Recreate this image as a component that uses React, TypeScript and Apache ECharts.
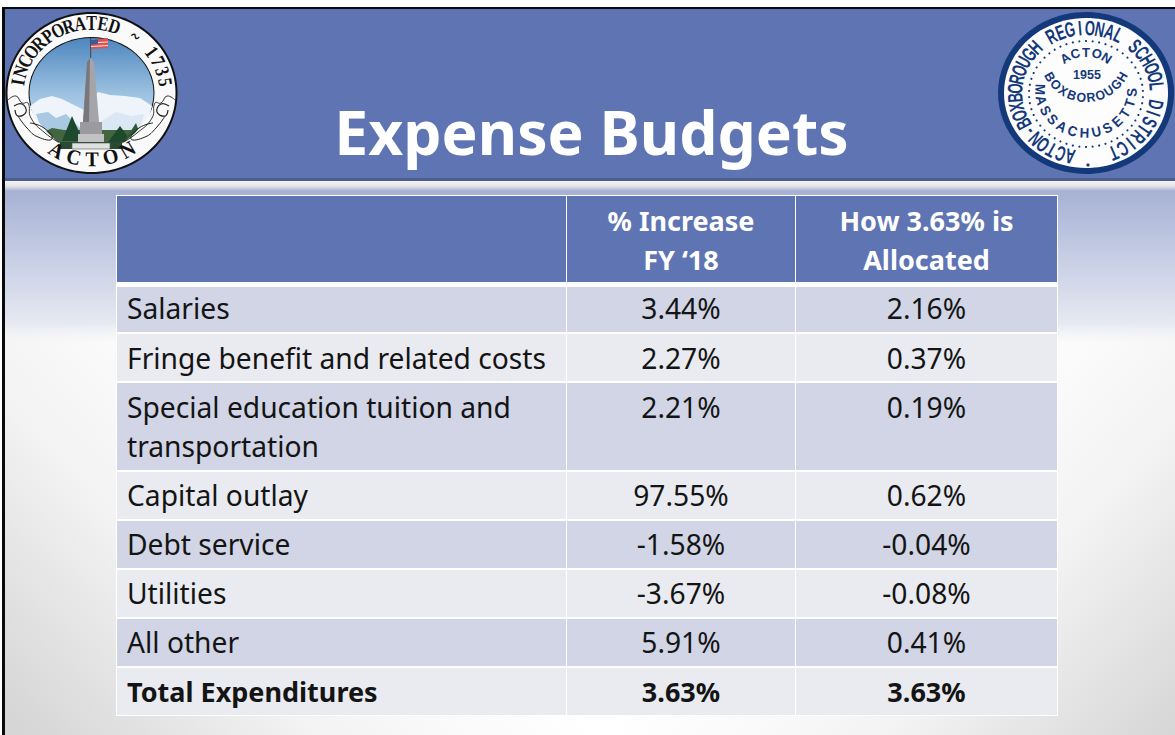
import React, { useEffect, useRef } from "react";
import * as echarts from "echarts";

const slideTitle = "Expense Budgets";
const columnHeaders = ["", "% Increase\nFY ‘18", "How 3.63% is\nAllocated"];
const rowLabels = [
  "Salaries",
  "Fringe benefit and related costs",
  "Special education tuition and\ntransportation",
  "Capital outlay",
  "Debt service",
  "Utilities",
  "All other",
  "Total Expenditures",
];
const pctIncrease = ["3.44%", "2.27%", "2.21%", "97.55%", "-1.58%", "-3.67%", "5.91%", "3.63%"];
const allocated = ["2.16%", "0.37%", "0.19%", "0.62%", "-0.04%", "-0.08%", "0.41%", "3.63%"];

const W = 1175;
const H = 735;
const colEdges = [[117, 566], [567, 795], [796, 1057]];
const rowEdges = [[196, 282], [287, 332], [334, 381], [383, 470], [472, 519], [521, 568], [570, 617], [619, 666], [668, 715]];
const lineCentres = [220.5, 308, 358, 407, 495, 544, 593, 642, 691.5];
const BLUE = "#5f75b3";
const FONT = "'Noto Sans', 'Open Sans', sans-serif";
const LH = 38.6;

function arcText(text: string, cx: number, cy: number, rx: number, ry: number, from: number, to: number, style: any, scaleX = 1) {
  const out: any[] = [];
  const chars = Array.from(text);
  chars.forEach((ch, i) => {
    if (ch === " ") return;
    const deg = from + ((to - from) * i) / (chars.length - 1);
    const t = (deg * Math.PI) / 180;
    const upright = to < from;
    out.push({
      type: "text",
      x: cx + rx * Math.sin(t),
      y: cy - ry * Math.cos(t),
      rotation: upright ? -(t - Math.PI) : -t,
      scaleX,
      style: { text: ch, align: "center", verticalAlign: "middle", ...style },
    });
  });
  return out;
}

function curve(points: number[][], stroke: string, lineWidth = 1) {
  return { type: "polyline", shape: { points, smooth: 0.5 }, style: { stroke, lineWidth, fill: "none" } };
}

function leftLogo() {
  const cx = 91.5, cy = 93;
  const serif = { fill: "#111", fontWeight: "bold", fontFamily: "'Liberation Serif', serif" };
  const els: any[] = [
    { type: "ellipse", shape: { cx, cy, rx: 86, ry: 81 }, style: { fill: "#101010" } },
    { type: "ellipse", shape: { cx, cy, rx: 84, ry: 79 }, style: { fill: "#fafafa" } },
    { type: "ellipse", shape: { cx, cy: 93, rx: 63, ry: 56 }, style: { fill: "#111" } },
    {
      type: "ellipse", shape: { cx, cy: 93, rx: 62, ry: 55 },
      style: { fill: new echarts.graphic.LinearGradient(0, 0, 0, 1, [
        { offset: 0, color: "#4e86bf" }, { offset: 0.5, color: "#9cc1e0" }, { offset: 1, color: "#d3e4f1" },
      ]) },
    },
    { type: "polygon", shape: { points: [[30, 106], [40, 99], [52, 96], [62, 99], [72, 104], [84, 110], [98, 92], [110, 95], [125, 96], [140, 98], [152, 106], [147, 128], [38, 128]] }, style: { fill: "#eef4fa" } },
    { type: "polygon", shape: { points: [[36, 114], [48, 112], [56, 118], [66, 114], [80, 128], [84, 136], [44, 136]] }, style: { fill: "#a9c8e2" } },
    { type: "polygon", shape: { points: [[100, 122], [116, 112], [132, 116], [144, 114], [138, 136], [100, 136]] }, style: { fill: "#dbe8f3" } },
    { type: "polygon", shape: { points: [[42, 133], [52, 128], [64, 130], [140, 130], [134, 142], [50, 142]] }, style: { fill: "#43663f" } },
    { type: "polygon", shape: { points: [[72, 116], [83, 141], [62, 141]] }, style: { fill: "#1d4a2f" } },
    { type: "polygon", shape: { points: [[120, 126], [132, 142], [108, 142]] }, style: { fill: "#1d4a2f" } },
    { type: "polygon", shape: { points: [[136, 123], [142, 140], [125, 140]] }, style: { fill: "#2c5a38" } },
    { type: "polygon", shape: { points: [[50, 130], [58, 142], [44, 142]] }, style: { fill: "#3e5f3e" } },
    { type: "polygon", shape: { points: [[60, 142], [122, 142], [122, 149], [60, 149]] }, style: { fill: "#2a4a33" } },
    { type: "rect", shape: { x: 72, y: 143, width: 38, height: 6 }, style: { fill: "#dfe3df", stroke: "#555", lineWidth: 0.6 } },
    { type: "rect", shape: { x: 80, y: 122, width: 22, height: 15 }, style: { fill: "#9b9b9f" } },
    { type: "rect", shape: { x: 78, y: 134, width: 26, height: 8 }, style: { fill: "#c2c2c4" } },
    { type: "polygon", shape: { points: [[90, 58], [87, 62], [83, 122], [99, 122], [94, 62]] }, style: { fill: "#a5a5a9" } },
    { type: "polygon", shape: { points: [[90, 58], [87, 62], [83, 122], [89, 122]] }, style: { fill: "#77777c" } },
    { type: "line", shape: { x1: 90.7, y1: 38, x2: 90.7, y2: 58 }, style: { stroke: "#444", lineWidth: 1 } },
    { type: "polygon", shape: { points: [[91, 40], [108, 38], [108, 48], [91, 49]] }, style: { fill: "#d9534f" } },
    { type: "polygon", shape: { points: [[91, 40], [98, 39.5], [98, 44], [91, 44.5]] }, style: { fill: "#3b5a9c" } },
    { type: "line", shape: { x1: 98, y1: 42.5, x2: 108, y2: 42 }, style: { stroke: "#f4e6e6", lineWidth: 1 } },
    { type: "line", shape: { x1: 91, y1: 46.5, x2: 108, y2: 45.5 }, style: { stroke: "#f4e6e6", lineWidth: 1 } },
    { type: "polygon", shape: { points: [[8, 100], [16, 96], [28, 103], [35, 118], [48, 133], [60, 144], [45, 158], [22, 135]] }, style: { fill: "#fafafa" } },
    { type: "polygon", shape: { points: [[175, 100], [167, 96], [155, 103], [148, 118], [135, 133], [122, 144], [138, 158], [160, 135]] }, style: { fill: "#fafafa" } },
    curve([[8, 100], [16, 96], [22, 103], [28, 103], [31, 118], [45, 133], [60, 143]], "#222", 0.9),
    curve([[175, 100], [167, 96], [161, 103], [155, 103], [152, 118], [137, 133], [122, 143]], "#222", 0.9),
    curve([[14, 106], [22, 104], [26, 112], [18, 116], [15, 110]], "#222", 1.2),
    curve([[18, 116], [27, 128], [38, 137], [52, 139], [44, 128], [30, 123]], "#222", 1),
    curve([[169, 106], [161, 104], [157, 112], [165, 116], [168, 110]], "#222", 1.2),
    curve([[165, 116], [156, 128], [145, 137], [131, 139], [139, 128], [153, 123]], "#222", 1),
    ...arcText("INCORPORATED ~ 1735", cx, cy, 74.5, 70, -81, 81, { ...serif, fontSize: 20 }, 0.8),
    ...arcText("ACTON", cx, cy, 70, 66, 210, 149, { ...serif, fontSize: 21 }, 0.95),
  ];
  return els;
}

function rightLogo() {
  const cx = 1086, cy = 93;
  const NAVY = "#14397a";
  const dots: any[] = [];
  for (let i = 0; i < 54; i++) {
    const t = (i / 54) * Math.PI * 2;
    dots.push({ type: "circle", shape: { cx: cx + 57 * Math.sin(t), cy: cy + 1 - 53 * Math.cos(t), r: 1.1 }, style: { fill: NAVY } });
  }
  const sans = { fill: NAVY, fontWeight: "bold", fontFamily: "'Liberation Sans', sans-serif" };
  return [
    { type: "ellipse", shape: { cx, cy, rx: 88, ry: 81 }, style: { fill: NAVY } },
    { type: "ellipse", shape: { cx, cy, rx: 82, ry: 75 }, style: { fill: "#fdfdfe" } },
    ...dots,
    ...arcText("ACTON-BOXBOROUGH REGIONAL SCHOOL DISTRICT", cx, cy, 71, 65, -167, 157, { ...sans, fontSize: 21 }, 0.62),
    ...arcText("ACTON", cx, 90, 38, 38, -33, 33, { ...sans, fontSize: 13 }),
    { type: "text", x: 1087, y: 75, style: { text: "1955", align: "center", verticalAlign: "middle", fontSize: 12.5, letterSpacing: 1.5, ...sans } },
    ...arcText("BOXBOROUGH", cx, 56, 42, 42, 240, 120, { ...sans, fontSize: 13 }, 0.95),
    ...arcText("MASSACHUSETTS", cx, 91, 46, 42, 272, 92, { ...sans, fontSize: 14 }, 0.95),
    { type: "circle", shape: { cx: 1088, cy: 165, r: 1.6 }, style: { fill: NAVY } },
  ];
}

const tableData: number[][] = [];
columnHeaders.forEach((_, c) => tableData.push([0, c]));
rowLabels.forEach((_, r) => [0, 1, 2].forEach((c) => tableData.push([r + 1, c])));

function cellText(r: number, c: number) {
  if (r === 0) return columnHeaders[c];
  return [rowLabels, pctIncrease, allocated][c][r - 1];
}

function renderCell(params: any, api: any) {
  const r = api.value(0);
  const c = api.value(1);
  const [x0, x1] = colEdges[c];
  const [y0, y1] = rowEdges[r];
  const p0 = api.coord([x0, y0]);
  const p1 = api.coord([x1, y1]);
  const last = r === rowLabels.length;
  const header = r === 0;
  const bold = header || last;
  const fill = header ? BLUE : r % 2 === 1 ? "#d1d5e6" : "#e9ebf1";
  const text = cellText(r, c);
  const children: any[] = [
    { type: "rect", shape: { x: p0[0], y: p0[1], width: p1[0] - p0[0], height: p1[1] - p0[1] }, style: { fill } },
  ];
  if (text) {
    const pos = api.coord([c === 0 ? x0 + 10 : (x0 + x1) / 2, lineCentres[r] - LH / 2]);
    children.push({
      type: "text",
      style: {
        text,
        x: pos[0],
        y: pos[1],
        align: c === 0 ? "left" : "center",
        verticalAlign: "top",
        lineHeight: LH,
        fontFamily: FONT,
        fontSize: bold ? 27 : 28.2,
        fontWeight: bold ? "bold" : "normal",
        fill: header ? "#ffffff" : "#141414",
      },
    });
  }
  return { type: "group", children };
}

export default function App() {
  const ref = useRef<HTMLDivElement>(null);
  useEffect(() => {
    document.body.style.margin = "0";
    const chart = echarts.init(ref.current!, undefined, { renderer: "svg" });
    const cornerStops = [
      { offset: 0, color: "#ffffff" },
      { offset: 0.2, color: "#fbfbfb" },
      { offset: 0.5, color: "#f3f3f3" },
      { offset: 1, color: "#d6d6d6" },
    ];
    const bg: any[] = [
      { type: "rect", shape: { x: 0, y: 0, width: W, height: H }, style: { fill: "#ffffff" } },
      { type: "rect", shape: { x: 588, y: 181, width: W - 588, height: H - 181 }, style: { fill: new echarts.graphic.LinearGradient(864, 449, 1175, 735, cornerStops, true) } },
      { type: "rect", shape: { x: 3, y: 181, width: 585, height: H - 181 }, style: { fill: new echarts.graphic.LinearGradient(340, 449, 29, 735, cornerStops, true) } },
      {
        type: "rect", shape: { x: 3, y: 190, width: W, height: 155 },
        style: { fill: new echarts.graphic.LinearGradient(0, 0, 0, 1, [
          { offset: 0, color: "#a6b1d4" },
          { offset: 0.47, color: "#c9d0e6" },
          { offset: 0.86, color: "#e6e9f1" },
          { offset: 1, color: "rgba(245,245,247,0)" },
        ]) },
      },
      {
        type: "rect", shape: { x: 3, y: 181, width: W, height: 10 },
        style: { fill: new echarts.graphic.LinearGradient(0, 0, 0, 1, [
          { offset: 0, color: "#f2f2f2" }, { offset: 0.5, color: "#e6e6ea" }, { offset: 1, color: "#a6b1d4" },
        ]) },
      },
      { type: "rect", shape: { x: 3, y: 9, width: W, height: 169 }, style: { fill: BLUE } },
      { type: "rect", shape: { x: 3, y: 178, width: W, height: 3 }, style: { fill: "#4c5d8e" } },
      { type: "rect", shape: { x: 2, y: 7, width: W, height: 2 }, style: { fill: "#0a0a0a" } },
      { type: "rect", shape: { x: 2, y: 7, width: 3, height: H }, style: { fill: "#0a0a0a" } },
      { type: "rect", shape: { x: 116, y: 195, width: 942, height: 521 }, style: { fill: "#ffffff" } },
      ...leftLogo(),
      ...rightLogo(),
      {
        type: "text", x: 591.5, y: 131,
        style: { text: slideTitle, align: "center", verticalAlign: "middle", fill: "#ffffff", fontFamily: FONT, fontSize: 60.6, fontWeight: "bold" },
      },
    ];
    chart.setOption({
      animation: false,
      grid: { left: 0, right: 0, top: 0, bottom: 0, containLabel: false },
      xAxis: { type: "value", min: 0, max: W, show: false },
      yAxis: { type: "value", min: 0, max: H, inverse: true, show: false },
      graphic: { elements: bg },
      series: [{ type: "custom", coordinateSystem: "cartesian2d", clip: false, data: tableData, renderItem: renderCell, silent: true }],
    });
    return () => chart.dispose();
  }, []);
  return <div ref={ref} style={{ width: W, height: H }} />;
}
